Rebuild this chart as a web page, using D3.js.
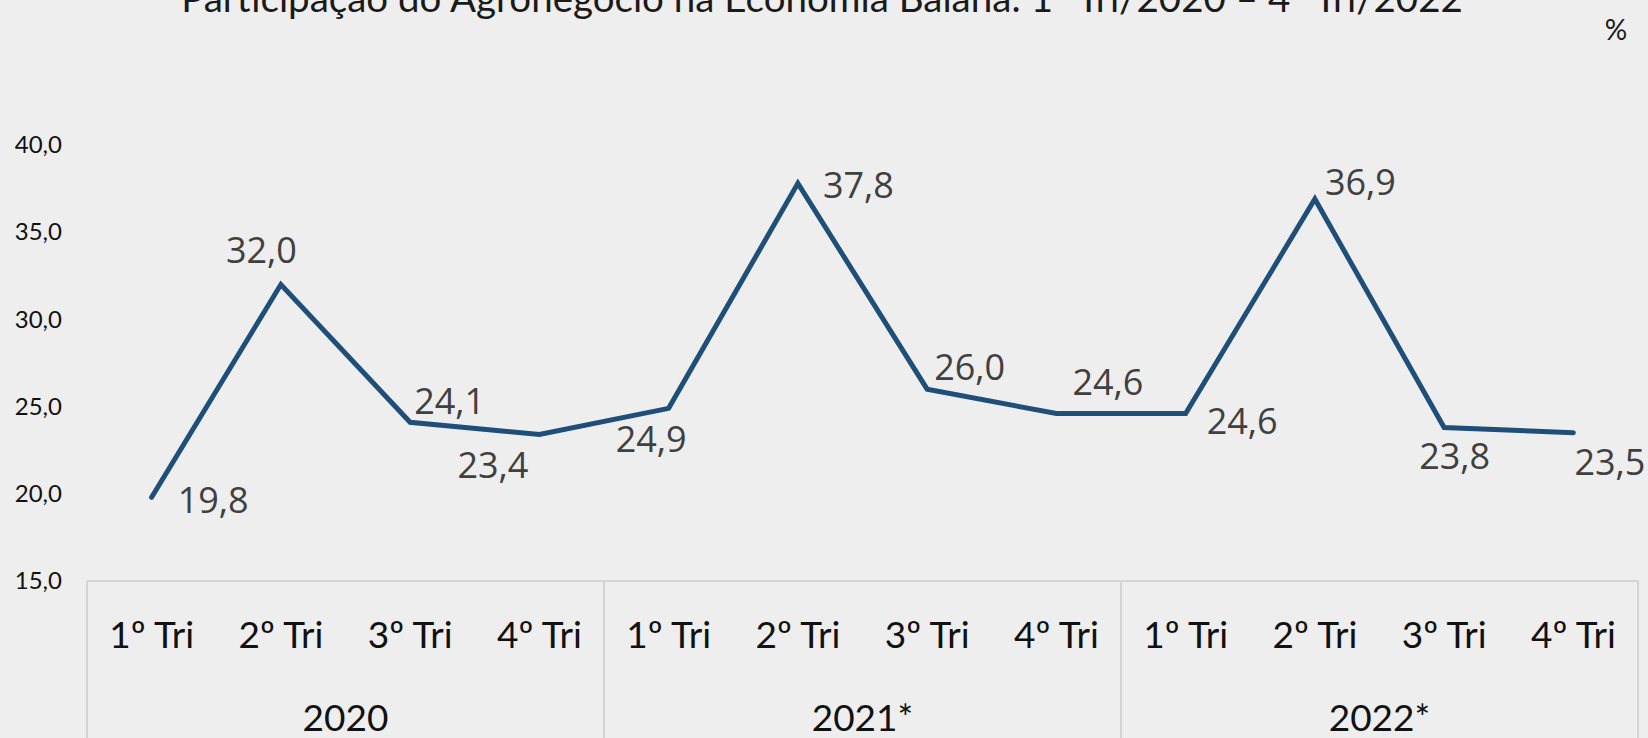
<!DOCTYPE html>
<html>
<head>
<meta charset="utf-8">
<script src="https://cdn.jsdelivr.net/npm/d3@7"></script>
<style>
  body { margin: 0; background: #eeeeee; }
  svg { display: block; }
</style>
</head>
<body>
<svg width="1648" height="738"></svg>
<script>
// data
var quarters = ["1º Tri", "2º Tri", "3º Tri", "4º Tri",
                "1º Tri", "2º Tri", "3º Tri", "4º Tri",
                "1º Tri", "2º Tri", "3º Tri", "4º Tri"];
var years = ["2020", "2021*", "2022*"];
var shares = [19.8, 32.0, 24.1, 23.4, 24.9, 37.8, 26.0, 24.6, 24.6, 36.9, 23.8, 23.5];
var yTicks = [15, 20, 25, 30, 35, 40];

var titleText = "Participação do Agronegócio na Economia Baiana: 1º Tri/2020 – 4º Tri/2022";

// where each value label sits relative to its point: [left edge dx, middle dy]
// (placed by hand in the excel original)
var labelPlace = [[26, 3], [-55, -34], [4, -21], [-82, 31], [-53, 31], [25, 2],
                  [7, -22], [16, -32], [21, 7], [10, -17], [-25, 29], [1, 29]];

var svg, g;
var lineColor = "#1f4e79";
var calibri = "Lato, 'Open Sans', sans-serif";

function fmt(v) {
    return v.toFixed(1).replace(".", ",");
}

function init() {
    svg = d3.select("svg");
    g = svg.append("g");

    var x = d3.scaleBand()
        .domain(d3.range(quarters.length))
        .range([87, 1638])
        .padding(0);

    var y = d3.scaleLinear()
        .domain([15, 40])
        .range([581, 145]);

    // title (cut off at the top in the original)
    svg.append("text")
        .attr("x", 822)
        .attr("y", 12)
        .attr("text-anchor", "middle")
        .style("font-family", calibri)
        .style("font-size", "38.5px")
        .style("fill", "#1a1a1a")
        .text(titleText);

    svg.append("text")
        .attr("x", 1616)
        .attr("y", 40)
        .attr("text-anchor", "middle")
        .style("font-family", calibri)
        .style("font-size", "28px")
        .style("fill", "#1a1a1a")
        .text("%");

    // y axis, labels only
    var yAxis = g.append("g")
        .attr("transform", "translate(62,0)")
        .call(d3.axisLeft(y).tickValues(yTicks).tickSize(0).tickPadding(0).tickFormat(fmt));
    yAxis.select(".domain").remove();
    yAxis.selectAll("text")
        .style("font-family", calibri)
        .style("font-size", "24px")
        .style("fill", "#111");

    // multi level category axis box
    var boxTop = y(15);
    var right = x(quarters.length - 1) + x.bandwidth();
    var boxes = g.append("g").attr("class", "cat-box");
    boxes.append("line")
        .attr("x1", x(0)).attr("x2", right)
        .attr("y1", boxTop).attr("y2", boxTop)
        .attr("stroke", "#d4d4d4").attr("stroke-width", 2);
    boxes.selectAll(".sep")
        .data(d3.range(years.length + 1))
        .enter()
        .append("line")
        .attr("x1", function(d) { return d < years.length ? x(d * 4) : right; })
        .attr("x2", function(d) { return d < years.length ? x(d * 4) : right; })
        .attr("y1", boxTop).attr("y2", 738)
        .attr("stroke", "#d4d4d4").attr("stroke-width", 2);

    var xAxis = g.append("g")
        .attr("transform", "translate(0," + boxTop + ")")
        .call(d3.axisBottom(x).tickSize(0).tickPadding(0)
            .tickFormat(function(i) { return quarters[i]; }));
    xAxis.select(".domain").remove();
    xAxis.selectAll("text")
        .attr("dy", null)
        .attr("y", 67)
        .style("font-family", calibri)
        .style("font-size", "37px")
        .style("fill", "#111");

    g.selectAll(".year")
        .data(years)
        .enter()
        .append("text")
        .classed("year", true)
        .attr("x", function(d, i) { return (x(i * 4) + x(i * 4 + 3) + x.bandwidth()) / 2; })
        .attr("y", 731)
        .attr("text-anchor", "middle")
        .style("font-family", calibri)
        .style("font-size", "37px")
        .style("fill", "#111")
        .text(function(d) { return d; });

    // the line
    var cx = function(d, i) { return x(i) + x.bandwidth() / 2; };
    var line = d3.line()
        .x(cx)
        .y(function(d) { return y(d); });

    g.append("path")
        .datum(shares)
        .attr("d", line)
        .attr("fill", "none")
        .attr("stroke", lineColor)
        .attr("stroke-width", 5)
        .attr("stroke-linejoin", "miter")
        .attr("stroke-linecap", "round");

    // value labels
    g.selectAll(".val")
        .data(shares)
        .enter()
        .append("text")
        .classed("val", true)
        .attr("x", function(d, i) { return cx(d, i) + labelPlace[i][0]; })
        .attr("y", function(d, i) { return y(d) + labelPlace[i][1]; })
        .attr("dy", "0.36em")
        .style("font-family", "'Open Sans', sans-serif")
        .style("font-size", "36px")
        .style("fill", "#404040")
        .text(fmt);
}

d3.select(window).on("load", init);
</script>
</body>
</html>
